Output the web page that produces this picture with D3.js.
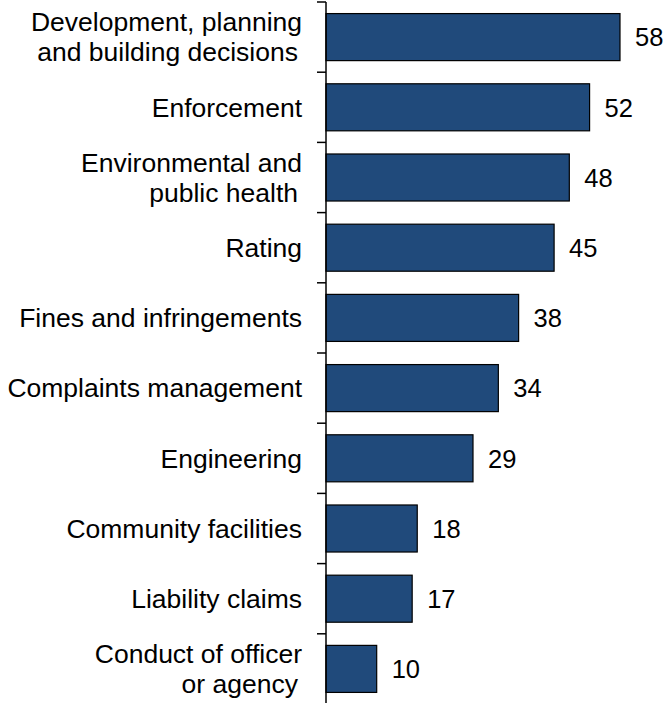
<!DOCTYPE html>
<html>
<head>
<meta charset="utf-8">
<script src="https://cdn.jsdelivr.net/npm/d3@7"></script>
<style>
  html, body { margin: 0; padding: 0; background: #fff; }
  svg { display: block; }
  text { font-family: "Liberation Sans", Arial, sans-serif; fill: #000; }
</style>
</head>
<body>
<svg id="chart" width="667" height="703"></svg>
<script>
const categories = [
  ["Development, planning", "and building decisions"],
  ["Enforcement"],
  ["Environmental and", "public health"],
  ["Rating"],
  ["Fines and infringements"],
  ["Complaints management"],
  ["Engineering"],
  ["Community facilities"],
  ["Liability claims"],
  ["Conduct of officer", "or agency"]
];
const values = [58, 52, 48, 45, 38, 34, 29, 18, 17, 10];

const svg = d3.select("#chart");
const axisX = 326;
const fontSize = 26.5;
const valFontSize = 25.5;

const keys = categories.map((c, i) => i);
const y = d3.scaleBand().domain(keys).range([2, 704]).paddingInner(0.33).paddingOuter(0.165);
const x = d3.scaleLinear().domain([0, 58]).range([axisX, 620]);

// bars
svg.selectAll("rect.bar").data(values).join("rect")
  .attr("class", "bar")
  .attr("x", axisX)
  .attr("y", (d, i) => y(i))
  .attr("width", d => x(d) - axisX)
  .attr("height", y.bandwidth())
  .attr("fill", "#204a7b")
  .attr("stroke", "#000")
  .attr("stroke-width", 1.2);

// axis line and ticks at band boundaries
const step = y.step();
const y0 = 2;
svg.append("line").attr("x1", axisX).attr("x2", axisX).attr("y1", y0).attr("y2", 703)
  .attr("stroke", "#000").attr("stroke-width", 1.5);
svg.selectAll("line.tick").data(d3.range(categories.length + 1)).join("line")
  .attr("class", "tick")
  .attr("x1", axisX - 9).attr("x2", axisX)
  .attr("y1", i => y0 + i * step).attr("y2", i => y0 + i * step)
  .attr("stroke", "#000").attr("stroke-width", 1.5);

// category labels
const lineH = 30;
const capH = 18.5;
const lab = svg.selectAll("text.cat").data(categories).join("text")
  .attr("class", "cat")
  .attr("text-anchor", "end")
  .attr("font-size", fontSize);
lab.each(function(lines, i) {
  const cy = y(i) + y.bandwidth() / 2;
  const n = lines.length;
  d3.select(this).selectAll("tspan").data(lines).join("tspan")
    .attr("x", (d, j) => j === 0 ? 302 : 298)
    .attr("y", (d, j) => cy + capH / 2 + (j - (n - 1) / 2) * lineH)
    .text(d => d);
});

// value labels
svg.selectAll("text.val").data(values).join("text")
  .attr("class", "val")
  .attr("font-size", valFontSize)
  .attr("x", d => x(d) + 15)
  .attr("y", (d, i) => y(i) + y.bandwidth() / 2 + capH / 2)
  .text(d => d);
</script>
</body>
</html>
